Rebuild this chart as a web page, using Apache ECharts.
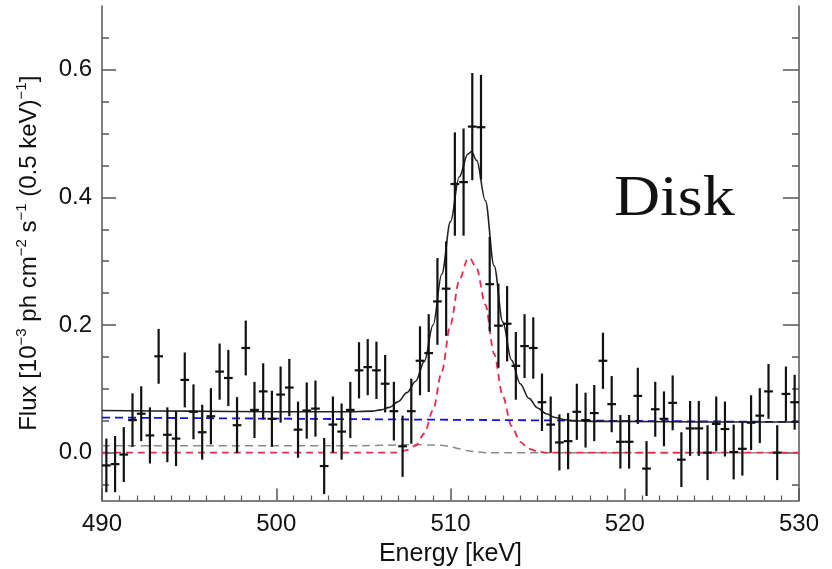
<!DOCTYPE html>
<html>
<head>
<meta charset="utf-8">
<script src="https://cdn.jsdelivr.net/npm/echarts@6/dist/echarts.min.js"></script>
<style>
html,body{margin:0;padding:0;background:#fff;}
#chart{width:832px;height:569px;}
</style>
</head>
<body>
<div id="chart"></div>
<script>
// ---- data ----
var energies = [490.25,490.75,491.25,491.75,492.25,492.75,493.25,493.75,494.25,494.75,
  495.25,495.75,496.25,496.75,497.25,497.75,498.25,498.75,499.25,499.75,
  500.25,500.75,501.25,501.75,502.25,502.75,503.25,503.75,504.25,504.75,
  505.25,505.75,506.25,506.75,507.25,507.75,508.25,508.75,509.25,509.75,
  510.25,510.75,511.25,511.75,512.25,512.75,513.25,513.75,514.25,514.75,
  515.25,515.75,516.25,516.75,517.25,517.75,518.25,518.75,519.25,519.75,
  520.25,520.75,521.25,521.75,522.25,522.75,523.25,523.75,524.25,524.75,
  525.25,525.75,526.25,526.75,527.25,527.75,528.25,528.75,529.25,529.75];
var flux = [-0.020,-0.018,-0.003,0.051,0.061,0.027,0.151,0.028,0.022,0.114,
  0.064,0.032,0.057,0.127,0.117,0.043,0.164,0.067,0.096,0.053,
  0.091,0.102,0.036,0.066,0.069,-0.021,0.044,0.033,0.067,0.129,
  0.134,0.129,0.108,0.065,0.010,0.065,0.144,0.156,0.237,0.257,
  0.421,0.424,0.511,0.510,0.264,0.199,0.202,0.136,0.167,0.164,
  0.079,0.044,0.016,0.018,0.064,0.051,0.062,0.144,0.076,0.017,
  0.017,0.089,-0.025,0.068,0.053,0.078,-0.011,0.038,0.038,0.000,
  0.045,0.037,0.001,0.006,0.047,0.058,0.096,0.000,0.092,0.079];
var fluxErr = [0.042,0.044,0.043,0.042,0.043,0.044,0.043,0.043,0.043,0.043,
  0.043,0.043,0.044,0.044,0.044,0.044,0.043,0.044,0.044,0.044,
  0.044,0.045,0.044,0.044,0.044,0.044,0.044,0.044,0.044,0.044,
  0.044,0.045,0.045,0.046,0.048,0.051,0.054,0.061,0.068,0.074,
  0.081,0.084,0.084,0.082,0.074,0.066,0.059,0.053,0.050,0.048,
  0.045,0.044,0.044,0.044,0.044,0.043,0.044,0.044,0.044,0.042,
  0.042,0.044,0.043,0.043,0.043,0.043,0.043,0.043,0.043,0.043,
  0.043,0.043,0.043,0.042,0.043,0.043,0.043,0.043,0.043,0.043];

var totalX = [490,495,500,504,505.5,506,506.5,507,507.5,508,508.5,509,509.5,510,510.5,511,511.2,511.5,512,512.5,513,513.5,514,514.5,515,515.5,516,516.5,517,518,520,525,530];
var totalY = [0.066,0.065,0.064,0.064,0.065,0.067,0.071,0.080,0.094,0.112,0.143,0.200,0.280,0.362,0.432,0.468,0.472,0.458,0.395,0.293,0.205,0.145,0.108,0.085,0.070,0.061,0.055,0.052,0.050,0.049,0.049,0.048,0.048];

var contX = [490,530];
var contY = [0.055,0.048];

var lineX = [490,507,507.5,508,508.5,509,509.5,510,510.5,511,511.1,511.5,512,512.5,513,513.5,514,514.5,515,515.5,530];
var lineY = [0,0,0.004,0.011,0.030,0.067,0.127,0.201,0.270,0.304,0.305,0.289,0.232,0.155,0.089,0.042,0.017,0.006,0.002,0,0];

var psX = [490,505,507,508,509,509.5,510,510.5,511,511.5,512,530];
var psY = [0.011,0.011,0.012,0.0125,0.012,0.0115,0.0095,0.006,0.003,0.001,0,0];

var xTicks = [490,500,510,520,530];
var yMajor = [0.0,0.2,0.4,0.6];
var yMinor = [-0.05,0.05,0.1,0.15,0.25,0.3,0.35,0.45,0.5,0.55,0.65];

// ---- build ----
function pairs(xs, ys){ var o=[]; for(var i=0;i<xs.length;i++) o.push([xs[i], ys[i]]); return o; }
var errData = []; for (var i=0;i<energies.length;i++) errData.push([energies[i], flux[i], fluxErr[i]]);

var AX = '#555';
var FONT = 'Liberation Sans, Arial, Helvetica, sans-serif';
var yMin = -0.075, yMax = 0.7;

var chart = echarts.init(document.getElementById('chart'), null, {renderer:'canvas'});
function yAx(pos, ticks, len, labels, line, extra){
  var a = {
    type:'value', position:pos, min:yMin, max:yMax,
    splitLine:{show:false},
    axisLine:{show:line, onZero:false, lineStyle:{color:AX, width:1.5}},
    axisTick:{show:true, inside:true, length:len, customValues:ticks, lineStyle:{color:AX, width:1.5}},
    axisLabel:{show:labels, customValues:ticks, formatter:function(v){return v.toFixed(1);}, color:'#111', fontSize:24, fontFamily:FONT, margin:10}
  };
  if (extra) for (var k in extra) a[k]=extra[k];
  return a;
}

var option = {
  animation:false,
  backgroundColor:'#fff',
  grid:{left:102, right:33, top:6, bottom:68.5, containLabel:false, outerBoundsMode:'none'},
  xAxis:[{
    type:'value', min:490, max:530, interval:10, position:'bottom',
    splitLine:{show:false},
    axisLine:{show:true, onZero:false, lineStyle:{color:AX, width:1.5}},
    axisTick:{show:true, inside:true, length:12, lineStyle:{color:AX, width:1.5}},
    minorTick:{show:true, splitNumber:10, length:5, lineStyle:{color:AX, width:1.2}},
    axisLabel:{color:'#111', fontSize:24, fontFamily:FONT, margin:12, customValues:xTicks},
    name:'Energy [keV]', nameLocation:'middle', nameGap:40,
    nameTextStyle:{color:'#111', fontSize:25, fontFamily:FONT}
  }],
  yAxis:[
    yAx('left', yMajor, 14, true, true, {
      name:'{n|Flux [10}{s|−3}{n| ph cm}{s|−2}{n| s}{s|−1}{n| (0.5 keV)}{s|−1}{n|]}',
      nameLocation:'middle', nameGap:58, nameRotate:90,
      nameTextStyle:{color:'#111', fontFamily:FONT, fontSize:24,
        rich:{n:{fontSize:24, fontFamily:FONT, color:'#111', lineHeight:30},
              s:{fontSize:15, fontFamily:FONT, color:'#111', verticalAlign:'top', lineHeight:30}}}
    }),
    yAx('left', yMinor, 7, false, false),
    yAx('right', yMajor, 16, false, true),
    yAx('right', yMinor, 7, false, false)
  ],
  series:[
    {type:'line', data:pairs(psX, psY), showSymbol:false, smooth:0.3, smoothMonotone:'x',
     lineStyle:{color:'#8a8a8a', width:1.5, type:[8,5]}, z:2},
    {type:'line', data:pairs(lineX, lineY), showSymbol:false, smooth:0.3, smoothMonotone:'x',
     lineStyle:{color:'#f0284f', width:1.8, type:[7,5]}, z:3},
    {type:'line', data:pairs(contX, contY), showSymbol:false,
     lineStyle:{color:'#1010e0', width:1.8, type:[8,5]}, z:3},
    {type:'line', data:pairs(totalX, totalY), showSymbol:false, smooth:0.35, smoothMonotone:'x',
     lineStyle:{color:'#222', width:1.6}, z:4},
    {type:'custom', data:errData, z:5,
     renderItem:function(params, api){
       var x=api.value(0), y=api.value(1), e=api.value(2);
       var t=api.coord([x, y+e]), b=api.coord([x, y-e]);
       var l=api.coord([x-0.25, y]), r=api.coord([x+0.25, y]);
       return {type:'group', children:[
         {type:'line', shape:{x1:t[0],y1:t[1],x2:b[0],y2:b[1]}, style:{stroke:'#111', lineWidth:2.2}},
         {type:'line', shape:{x1:l[0],y1:l[1],x2:r[0],y2:r[1]}, style:{stroke:'#111', lineWidth:2.2}}
       ]};
     }}
  ],
  graphic:[
    {type:'text', x:614, y:172, scaleX:1.12, scaleY:1,
     style:{text:'Disk', fill:'#111', font:'57px "Liberation Serif", "Times New Roman", serif'}}
  ]
};
chart.setOption(option);
</script>
</body>
</html>
